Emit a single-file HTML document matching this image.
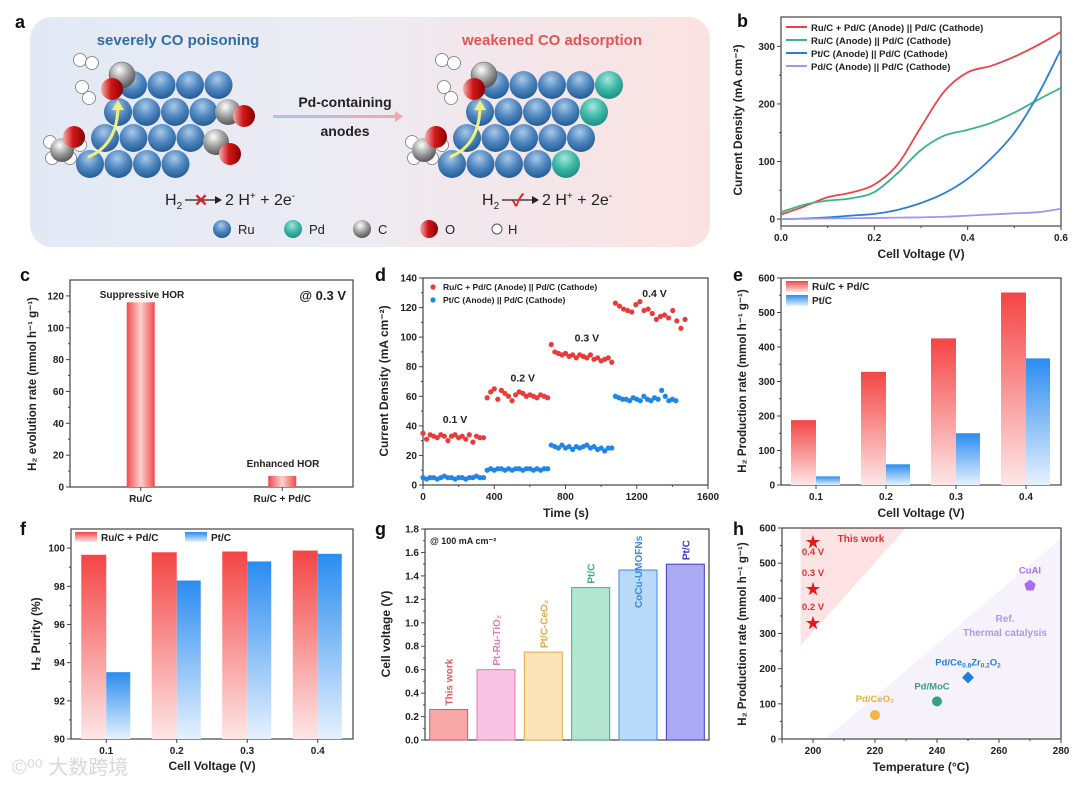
<!DOCTYPE html>
<html><head><meta charset="utf-8"><style>
html,body{margin:0;padding:0;background:#fff;width:1080px;height:785px;overflow:hidden}
svg{display:block;font-family:"Liberation Sans","Noto Sans CJK SC",sans-serif}
</style></head><body>
<svg id="fig" width="1080" height="785" viewBox="0 0 1080 785" xmlns="http://www.w3.org/2000/svg">
<defs>
<linearGradient id="bgA" x1="0" x2="1" y1="0" y2="0"><stop offset="0" stop-color="#e2e9f5"/><stop offset="0.45" stop-color="#ecebf3"/><stop offset="1" stop-color="#fbe2e1"/></linearGradient>
<radialGradient id="gRu" cx="0.45" cy="0.3" r="0.75"><stop offset="0" stop-color="#a9c9e8"/><stop offset="0.5" stop-color="#4f86bf"/><stop offset="1" stop-color="#1c5590"/></radialGradient>
<radialGradient id="gPd" cx="0.45" cy="0.3" r="0.75"><stop offset="0" stop-color="#a6e6dc"/><stop offset="0.5" stop-color="#3fb8a8"/><stop offset="1" stop-color="#16897d"/></radialGradient>
<radialGradient id="gC" cx="0.4" cy="0.3" r="0.8"><stop offset="0" stop-color="#ffffff"/><stop offset="0.5" stop-color="#9a9a9a"/><stop offset="1" stop-color="#444"/></radialGradient>
<linearGradient id="gO" x1="0" x2="1" y1="0" y2="0"><stop offset="0" stop-color="#f3b0b0"/><stop offset="0.45" stop-color="#d01818"/><stop offset="1" stop-color="#8a0000"/></linearGradient>
<linearGradient id="arrowG" gradientUnits="userSpaceOnUse" x1="273" x2="400" y1="0" y2="0"><stop offset="0" stop-color="#a9c4e6"/><stop offset="1" stop-color="#f1a9a9"/></linearGradient>
<linearGradient id="gBarC" x1="0" x2="1"><stop offset="0" stop-color="#ef4b4b"/><stop offset="0.5" stop-color="#fdd0d0"/><stop offset="1" stop-color="#ef4b4b"/></linearGradient>
<linearGradient id="gRed" x1="0" x2="0" y1="0" y2="1"><stop offset="0" stop-color="#f44545"/><stop offset="1" stop-color="#fde6e6"/></linearGradient>
<linearGradient id="gBlue" x1="0" x2="0" y1="0" y2="1"><stop offset="0" stop-color="#2a8cf0"/><stop offset="1" stop-color="#e6f1fd"/></linearGradient>
</defs>
</svg>
<script>
// ---------- data ----------
const bX = [0,0.05,0.1,0.15,0.2,0.25,0.3,0.35,0.4,0.45,0.5,0.55,0.6];
const bRed = [8,22,38,46,60,95,160,222,255,266,282,302,325];
const bGreen = [12,25,32,36,47,80,120,145,155,167,185,207,228];
const bBlue = [0,1,3,6,9,16,28,45,70,105,150,215,295];
const bPurple = [0,0.5,1,1.5,2,2.5,3,4,6,8,10,12,18];
const bNames = ['Ru/C + Pd/C (Anode) || Pd/C (Cathode)','Ru/C (Anode) || Pd/C (Cathode)','Pt/C (Anode) || Pd/C (Cathode)','Pd/C (Anode) || Pd/C (Cathode)'];

const cCats = ['Ru/C','Ru/C + Pd/C'];
const cVals = [116,7];

const dRed = [35,31,34,33,32,34,33,30,33,34,32,33,31,34,29,33,32,32,
 59,63,65,58,64,62,60,57,61,63,62,60,61,60,59,61,60,59,
 95,90,89,88,89,87,88,86,88,87,86,88,85,86,84,85,86,83,
 123,121,119,118,117,122,124,118,119,116,112,114,115,113,118,111,106,112];
const dBlue = [5,4,5,5,4,5,6,5,5,4,5,5,4,5,5,6,5,5,
 10,11,10,11,11,10,11,10,11,11,10,11,11,10,11,10,11,11,
 27,26,25,27,25,26,24,26,25,26,27,25,26,24,25,23,25,25,
 60,59,58,58,57,59,58,57,60,58,57,59,58,64,60,57,58,57];
const dStepSec = 20;
const dLabels = ['0.1 V','0.2 V','0.3 V','0.4 V'];

const eCats = ['0.1','0.2','0.3','0.4'];
const eRed = [188,328,425,558];
const eBlue = [25,60,150,367];

const fCats = ['0.1','0.2','0.3','0.4'];
const fRed = [99.65,99.78,99.82,99.87];
const fBlue = [93.5,98.3,99.3,99.7];

const gCats = ['This work','Pt-Ru-TiO₂','Pt/C-CeO₂','Pt/C','CoCu-UMOFNs','Pt/C'];
const gVals = [0.26,0.6,0.75,1.3,1.45,1.5];
const gFill = ['#f6a8a8','#f9c4e4','#fbe4b9','#b3e5d2','#b9d9f8','#aaabf4'];
const gStroke = ['#e05a5a','#e07ab4','#e2ab48','#3cad8a','#3b8be0','#3c3cbf'];

const hStarT = [200,200,200];
const hStarV = [560,427,330];
const hStarL = ['0.4 V','0.3 V','0.2 V'];
const hRefNames = ['Pd/CeO₂','Pd/MoC','Pd/Ce0.8Zr0.2O2','CuAl'];
const hRefT = [220,240,250,270];
const hRefV = [68,107,175,436];

// ---------- helpers ----------
const NS='http://www.w3.org/2000/svg';
const svg=document.getElementById('fig');
function E(tag,attrs,name,parent){
  const el=document.createElementNS(NS,tag);
  for(const k in attrs) el.setAttribute(k,attrs[k]);
  
  
  (parent||svg).appendChild(el);
  return el;
}
function T(x,y,s,o,name,parent){
  o=o||{};
  const el=E('text',{x:x,y:y,'font-size':o.fs||10,'font-weight':o.fw||'bold',fill:o.fill||'#222','text-anchor':o.anchor||'middle'},name,parent);
  if(o.rot) el.setAttribute('transform','rotate('+o.rot+' '+x+' '+y+')');
  el.textContent=s;
  return el;
}
function axes(o){
  const sx=v=>o.l+(v-o.xmin)/(o.xmax-o.xmin)*(o.r-o.l);
  const sy=v=>o.b-(v-o.ymin)/(o.ymax-o.ymin)*(o.b-o.t);
  return {sx,sy};
}
function frame(o,name){
  E('rect',{x:o.l,y:o.t,width:o.r-o.l,height:o.b-o.t,fill:'none',stroke:'#444','stroke-width':1.2},name+'-frame');
}
function yTicks(o,sy,ticks,fmt,name){
  ticks.forEach((v,i)=>{
    const y=sy(v);
    E('line',{x1:o.l-4,x2:o.l,y1:y,y2:y,stroke:'#444','stroke-width':1},name+'-ytick');
    T(o.l-6,y+3.5,fmt(v),{anchor:'end'},name+'-ytick-label');
    if(i<ticks.length-1){const ym=sy((v+ticks[i+1])/2);E('line',{x1:o.l-2,x2:o.l,y1:ym,y2:ym,stroke:'#444'},name+'-yminor');}
  });
}
function xTicks(o,sx,ticks,fmt,name){
  ticks.forEach((v,i)=>{
    const x=sx(v);
    E('line',{x1:x,x2:x,y1:o.b,y2:o.b+4,stroke:'#444','stroke-width':1},name+'-xtick');
    T(x,o.b+15,fmt(v),{},name+'-xtick-label');
    if(i<ticks.length-1){const xm=sx((v+ticks[i+1])/2);E('line',{x1:xm,x2:xm,y1:o.b,y2:o.b+2,stroke:'#444'},name+'-xminor');}
  });
}
function smooth(pts){
  let d='M'+pts[0][0]+','+pts[0][1];
  for(let i=0;i<pts.length-1;i++){
    const p0=pts[i-1]||pts[i],p1=pts[i],p2=pts[i+1],p3=pts[i+2]||p2;
    const c1=[p1[0]+(p2[0]-p0[0])/6,p1[1]+(p2[1]-p0[1])/6];
    const c2=[p2[0]-(p3[0]-p1[0])/6,p2[1]-(p3[1]-p1[1])/6];
    d+=' C'+c1+' '+c2+' '+p2;
  }
  return d;
}
function panelLabel(x,y,s){T(x,y,s,{fs:18,anchor:'start',fill:'#111'},'panel-label-'+s);}

// ---------- panel a ----------
(function(){
  const g=E('g',{},'panel-a-schematic');
  E('rect',{x:30,y:17,width:680,height:230,rx:22,fill:'url(#bgA)'},'panel-a-background',g);
  panelLabel(15,28,'a');
  T(178,45,'severely CO poisoning',{fs:15,fill:'#2f6ea5'},'title-co-poisoning',g);
  T(552,45,'weakened CO adsorption',{fs:15,fill:'#e55353'},'title-weakened-co',g);
  T(345,107,'Pd-containing',{fs:14,fill:'#222'},'arrow-label-pd',g);
  T(345,136,'anodes',{fs:14,fill:'#222'},'arrow-label-anodes',g);
  E('rect',{x:273,y:115,width:122,height:3,fill:'url(#arrowG)'},'transform-arrow',g);
  E('polygon',{points:'395,111 403,116.5 395,122',fill:'#f1a9a9'},'transform-arrowhead',g);
  const rows=[[85,133],[112,118],[138,105],[164,90]];
  function cluster(off,n,teal){
    rows.forEach((r,ri)=>{
      for(let i=0;i<n;i++){
        const isPd=teal&&i===n-1&&ri!==2;
        E('circle',{cx:r[1]+off+i*28.5,cy:r[0],r:14,fill:isPd?'url(#gPd)':'url(#gRu)'},isPd?'pd-atom':'ru-atom',g);
      }
    });
    E('circle',{cx:122+off,cy:75,r:13,fill:'url(#gC)',stroke:'#555','stroke-width':0.5},'c-atom',g);
    E('circle',{cx:112+off,cy:89,r:11,fill:'url(#gO)'},'o-atom',g);
    [[80,60],[92,63],[82,87],[89,98],[50,142],[52,158],[80,145],[70,158]].forEach(p=>E('circle',{cx:p[0]+off,cy:p[1],r:6.5,fill:'#fff',stroke:'#777','stroke-width':0.8},'h-atom',g));
    E('circle',{cx:62+off,cy:150,r:12,fill:'url(#gC)'},'c-atom',g);
    E('circle',{cx:74+off,cy:137,r:11,fill:'url(#gO)'},'o-atom',g);
    E('path',{d:'M'+(88+off)+',157 Q'+(118+off)+',145 '+(118+off)+',105',fill:'none',stroke:'#f1f07a','stroke-width':3},'yellow-arrow',g);
    E('polygon',{points:(112+off)+',110 '+(118+off)+',100 '+(124+off)+',110',fill:'#f1f07a'},'yellow-arrowhead',g);
  }
  cluster(0,4,false);
  cluster(362,5,true);
  E('circle',{cx:228,cy:112,r:13,fill:'url(#gC)'},'c-atom',g);
  E('circle',{cx:244,cy:116,r:11,fill:'url(#gO)'},'o-atom',g);
  E('circle',{cx:216,cy:142,r:13,fill:'url(#gC)'},'c-atom',g);
  E('circle',{cx:230,cy:154,r:11,fill:'url(#gO)'},'o-atom',g);
  function eq(x,ok){
    const h=E('text',{x:x,y:205,'font-size':16,fill:'#222'},'reaction-reactant',g);
    h.innerHTML='H<tspan font-size="10" dy="4">2</tspan>';
    E('line',{x1:x+20,x2:x+52,y1:200,y2:200,stroke:'#222','stroke-width':1.3},'reaction-arrow',g);
    E('polygon',{points:(x+50)+',196 '+(x+57)+',200 '+(x+50)+',204',fill:'#222'},'reaction-arrowhead',g);
    T(x+36,206,ok?'✓':'✕',{fs:17,fill:'#e02020'},ok?'check-mark':'cross-mark',g);
    const p=E('text',{x:x+60,y:205,'font-size':16,fill:'#222'},'reaction-products',g);
    p.innerHTML='2 H<tspan font-size="10" dy="-6">+</tspan><tspan dy="6"> + 2e</tspan><tspan font-size="10" dy="-6">-</tspan>';
  }
  eq(165,false); eq(482,true);
  [['url(#gRu)',222,'Ru'],['url(#gPd)',293,'Pd'],['url(#gC)',362,'C'],['url(#gO)',429,'O']].forEach(a=>{
    E('circle',{cx:a[1],cy:229,r:9,fill:a[0]},'legend-atom-'+a[2],g);
    T(a[1]+16,234,a[2],{fs:13,fw:'normal',anchor:'start'},'legend-label-'+a[2],g);
  });
  E('circle',{cx:497,cy:229,r:5,fill:'#fff',stroke:'#555'},'legend-atom-H',g);
  T(508,234,'H',{fs:13,fw:'normal',anchor:'start'},'legend-label-H',g);
})();

// ---------- panel b ----------
(function(){
  const o={l:781,r:1061,t:17,b:226,xmin:0,xmax:0.6,ymin:-12,ymax:351};
  const {sx,sy}=axes(o);
  panelLabel(737,27,'b');
  frame(o,'panel-b');
  yTicks(o,sy,[0,100,200,300],v=>v,'panel-b');
  xTicks(o,sx,[0,0.2,0.4,0.6],v=>v.toFixed(1),'panel-b');
  T(921,258,'Cell Voltage (V)',{fs:12},'panel-b-x-title');
  T(742,120,'Current Density (mA cm⁻²)',{fs:12,rot:-90},'panel-b-y-title');
  const series=[bRed,bGreen,bBlue,bPurple], cols=['#e8454a','#3cb38a','#2a7fd4','#9b98f0'];
  series.forEach((s,i)=>{
    E('path',{d:smooth(bX.map((x,j)=>[sx(x),sy(s[j])])),fill:'none',stroke:cols[i],'stroke-width':1.8},'panel-b-curve-'+i);
    E('line',{x1:786,x2:807,y1:27+i*13,y2:27+i*13,stroke:cols[i],'stroke-width':2},'panel-b-legend-line');
    T(811,31+i*13,bNames[i],{fs:9.5,anchor:'start'},'panel-b-legend-entry');
  });
})();

// ---------- panel c ----------
(function(){
  const o={l:70,r:353,t:280,b:487,xmin:0,xmax:1,ymin:0,ymax:130};
  const {sy}=axes(o);
  panelLabel(20,281,'c');
  frame(o,'panel-c');
  yTicks(o,sy,[0,20,40,60,80,100,120],v=>v,'panel-c');
  const step=(o.r-o.l)/cCats.length;
  cCats.forEach((c,i)=>{
    const cx=o.l+step*(i+0.5);
    E('rect',{x:cx-14,y:sy(cVals[i]),width:28,height:o.b-sy(cVals[i]),fill:'url(#gBarC)'},'panel-c-bar-'+i);
    E('line',{x1:cx,x2:cx,y1:o.b,y2:o.b+4,stroke:'#444'},'panel-c-xtick');
    T(cx,o.b+15,c,{},'panel-c-xtick-label');
  });
  T(142,298,'Suppressive HOR',{fs:10},'panel-c-annot-suppressive');
  T(283,467,'Enhanced HOR',{fs:10},'panel-c-annot-enhanced');
  T(346,300,'@ 0.3 V',{fs:13,anchor:'end'},'panel-c-condition');
  T(36,384,'H₂ evolution rate (mmol h⁻¹ g⁻¹)',{fs:11.5,rot:-90},'panel-c-y-title');
})();

// ---------- panel d ----------
(function(){
  const o={l:423,r:708,t:278,b:485,xmin:0,xmax:1600,ymin:0,ymax:140};
  const {sx,sy}=axes(o);
  panelLabel(375,281,'d');
  frame(o,'panel-d');
  yTicks(o,sy,[0,20,40,60,80,100,120,140],v=>v,'panel-d');
  xTicks(o,sx,[0,400,800,1200,1600],v=>v,'panel-d');
  T(566,517,'Time (s)',{fs:12},'panel-d-x-title');
  T(388,381,'Current Density (mA cm⁻²)',{fs:12,rot:-90},'panel-d-y-title');
  dRed.forEach((v,i)=>E('circle',{cx:sx(i*dStepSec+(i>=54?(i-54)*3:0)),cy:sy(v),r:2.6,fill:'#ea3a3a'},'panel-d-red-point'));
  dBlue.forEach((v,i)=>E('circle',{cx:sx(i*dStepSec),cy:sy(v),r:2.6,fill:'#1f86e8'},'panel-d-blue-point'));
  const lx=[180,560,920,1300], ly=[42,70,97,127];
  dLabels.forEach((s,i)=>T(sx(lx[i]),sy(ly[i]),s,{fs:10.5},'panel-d-voltage-label'));
  E('circle',{cx:433,cy:287,r:2.6,fill:'#ea3a3a'},'panel-d-legend-marker-red');
  T(443,290,'Ru/C + Pd/C (Anode) || Pd/C (Cathode)',{fs:8.5,anchor:'start'},'panel-d-legend-red');
  E('circle',{cx:433,cy:300,r:2.6,fill:'#1f86e8'},'panel-d-legend-marker-blue');
  T(443,303,'Pt/C (Anode) || Pd/C (Cathode)',{fs:8.5,anchor:'start'},'panel-d-legend-blue');
})();

// ---------- panel e ----------
(function(){
  const o={l:781,r:1061,t:278,b:485,xmin:0,xmax:1,ymin:0,ymax:600};
  const {sy}=axes(o);
  panelLabel(733,281,'e');
  frame(o,'panel-e');
  yTicks(o,sy,[0,100,200,300,400,500,600],v=>v,'panel-e');
  const step=(o.r-o.l)/eCats.length;
  eCats.forEach((c,i)=>{
    const cx=o.l+step*(i+0.5);
    E('rect',{x:cx-25,y:sy(eRed[i]),width:25,height:o.b-sy(eRed[i]),fill:'url(#gRed)'},'panel-e-bar-red-'+i);
    E('rect',{x:cx,y:sy(eBlue[i]),width:24,height:o.b-sy(eBlue[i]),fill:'url(#gBlue)'},'panel-e-bar-blue-'+i);
    E('line',{x1:cx,x2:cx,y1:o.b,y2:o.b+4,stroke:'#444'},'panel-e-xtick');
    T(cx,o.b+15,c,{},'panel-e-xtick-label');
  });
  T(921,517,'Cell Voltage (V)',{fs:12},'panel-e-x-title');
  T(746,381,'H₂ Production rate (mmol h⁻¹ g⁻¹)',{fs:11.5,rot:-90},'panel-e-y-title');
  E('rect',{x:786,y:281,width:22,height:11,fill:'url(#gRed)'},'panel-e-legend-swatch-red');
  T(812,290,'Ru/C + Pd/C',{fs:10,anchor:'start'},'panel-e-legend-red');
  E('rect',{x:786,y:295,width:22,height:11,fill:'url(#gBlue)'},'panel-e-legend-swatch-blue');
  T(812,304,'Pt/C',{fs:10,anchor:'start'},'panel-e-legend-blue');
})();

// ---------- panel f ----------
(function(){
  const o={l:71,r:353,t:529,b:739,xmin:0,xmax:1,ymin:90,ymax:101};
  const {sy}=axes(o);
  panelLabel(20,535,'f');
  frame(o,'panel-f');
  yTicks(o,sy,[90,92,94,96,98,100],v=>v,'panel-f');
  const step=(o.r-o.l)/fCats.length;
  fCats.forEach((c,i)=>{
    const cx=o.l+step*(i+0.5);
    E('rect',{x:cx-25,y:sy(fRed[i]),width:25,height:o.b-sy(fRed[i]),fill:'url(#gRed)'},'panel-f-bar-red-'+i);
    E('rect',{x:cx,y:sy(fBlue[i]),width:24,height:o.b-sy(fBlue[i]),fill:'url(#gBlue)'},'panel-f-bar-blue-'+i);
    E('line',{x1:cx,x2:cx,y1:o.b,y2:o.b+4,stroke:'#444'},'panel-f-xtick');
    T(cx,o.b+15,c,{},'panel-f-xtick-label');
  });
  T(212,770,'Cell Voltage (V)',{fs:12},'panel-f-x-title');
  T(40,634,'H₂ Purity (%)',{fs:12,rot:-90},'panel-f-y-title');
  E('rect',{x:75,y:532,width:22,height:10,fill:'url(#gRed)'},'panel-f-legend-swatch-red');
  T(101,541,'Ru/C + Pd/C',{fs:10,anchor:'start'},'panel-f-legend-red');
  E('rect',{x:185,y:532,width:22,height:10,fill:'url(#gBlue)'},'panel-f-legend-swatch-blue');
  T(211,541,'Pt/C',{fs:10,anchor:'start'},'panel-f-legend-blue');
  T(12,774,'©⁰⁰ 大数跨境',{fs:20,fw:'normal',fill:'#d8d8d8',anchor:'start'},'watermark');
})();

// ---------- panel g ----------
(function(){
  const o={l:425,r:709,t:529,b:740,xmin:0,xmax:1,ymin:0,ymax:1.8};
  const {sy}=axes(o);
  panelLabel(375,535,'g');
  frame(o,'panel-g');
  yTicks(o,sy,[0,0.2,0.4,0.6,0.8,1.0,1.2,1.4,1.6,1.8],v=>v.toFixed(1),'panel-g');
  const step=(o.r-o.l)/gCats.length;
  gCats.forEach((c,i)=>{
    const cx=o.l+step*(i+0.5), y=sy(gVals[i]);
    E('rect',{x:cx-19,y:y,width:38,height:o.b-y,fill:gFill[i],stroke:gStroke[i],'stroke-width':1},'panel-g-bar-'+i);
    const ty = (i===4) ? y+38 : y-4;
    T(cx+4,ty,c,{fs:10,fill:gStroke[i],anchor:'start',rot:-90},'panel-g-bar-label-'+i);
  });
  T(430,544,'@ 100 mA cm⁻²',{fs:9,anchor:'start'},'panel-g-condition');
  T(390,634,'Cell voltage (V)',{fs:12,rot:-90},'panel-g-y-title');
})();

// ---------- panel h ----------
(function(){
  const o={l:782,r:1061,t:528,b:739,xmin:190,xmax:280,ymin:0,ymax:600};
  const {sx,sy}=axes(o);
  panelLabel(733,535,'h');
  E('polygon',{points:sx(196)+','+sy(600)+' '+sx(230)+','+sy(600)+' '+sx(196)+','+sy(265),fill:'#fde3e3'},'this-work-region');
  E('polygon',{points:sx(204)+','+sy(0)+' '+sx(280)+','+sy(0)+' '+sx(280)+','+sy(570),fill:'#f6f2fc'},'thermal-catalysis-region');
  frame(o,'panel-h');
  yTicks(o,sy,[0,100,200,300,400,500,600],v=>v,'panel-h');
  xTicks(o,sx,[200,220,240,260,280],v=>v,'panel-h');
  E('line',{x1:sx(190),x2:sx(190),y1:o.b,y2:o.b+4,stroke:'#444'},'panel-h-xtick');
  T(921,771,'Temperature (°C)',{fs:12},'panel-h-x-title');
  T(746,634,'H₂ Production rate (mmol h⁻¹ g⁻¹)',{fs:11.5,rot:-90},'panel-h-y-title');
  hStarV.forEach((v,i)=>{
    T(sx(hStarT[i]),sy(v)+5,'★',{fs:15,fw:'normal',fill:'#e01b1b'},'panel-h-star-'+i);
    T(sx(hStarT[i]),sy(v)-13+(i===0?26:0),hStarL[i],{fs:9.5,fill:'#e03030'},'panel-h-star-label-'+i);
  });
  T(861,542,'This work',{fs:10,fill:'#e03030'},'panel-h-this-work-label');
  T(1005,622,'Ref.',{fs:10,fill:'#a99be8'},'panel-h-ref-label');
  T(1005,636,'Thermal catalysis',{fs:10,fill:'#a99be8'},'panel-h-thermal-label');
  const cols=['#f3b53a','#35a27e','#1f7fe0','#a86ef0'];
  hRefT.forEach((t,i)=>{
    const x=sx(t), y=sy(hRefV[i]);
    if(i<2) E('circle',{cx:x,cy:y,r:5,fill:cols[i]},'panel-h-point-'+i);
    else if(i===2) E('polygon',{points:(x)+','+(y-6)+' '+(x+6)+','+y+' '+x+','+(y+6)+' '+(x-6)+','+y,fill:cols[i]},'panel-h-point-'+i);
    else E('polygon',{points:[0,1,2,3,4].map(k=>{const a=-Math.PI/2+k*2*Math.PI/5;return (x+6*Math.cos(a))+','+(y+6*Math.sin(a));}).join(' '),fill:cols[i]},'panel-h-point-'+i);
  });
  T(sx(220),sy(68)-13,'Pd/CeO₂',{fs:9.5,fill:'#f0b030'},'panel-h-label-pdceo2');
  T(sx(240)-5,sy(107)-12,'Pd/MoC',{fs:9.5,fill:'#35a27e'},'panel-h-label-pdmoc');
  const t=T(sx(250),sy(175)-12,'',{fs:9.5,fill:'#1f7fe0'},'panel-h-label-pdcezr');
  t.innerHTML='Pd/Ce<tspan font-size="6.5" dy="2">0.8</tspan><tspan dy="-2">Zr</tspan><tspan font-size="6.5" dy="2">0.2</tspan><tspan dy="-2">O</tspan><tspan font-size="6.5" dy="2">2</tspan>';
  T(sx(270),sy(436)-12,'CuAl',{fs:9.5,fill:'#a86ef0'},'panel-h-label-cual');
})();
</script>
</body></html>
